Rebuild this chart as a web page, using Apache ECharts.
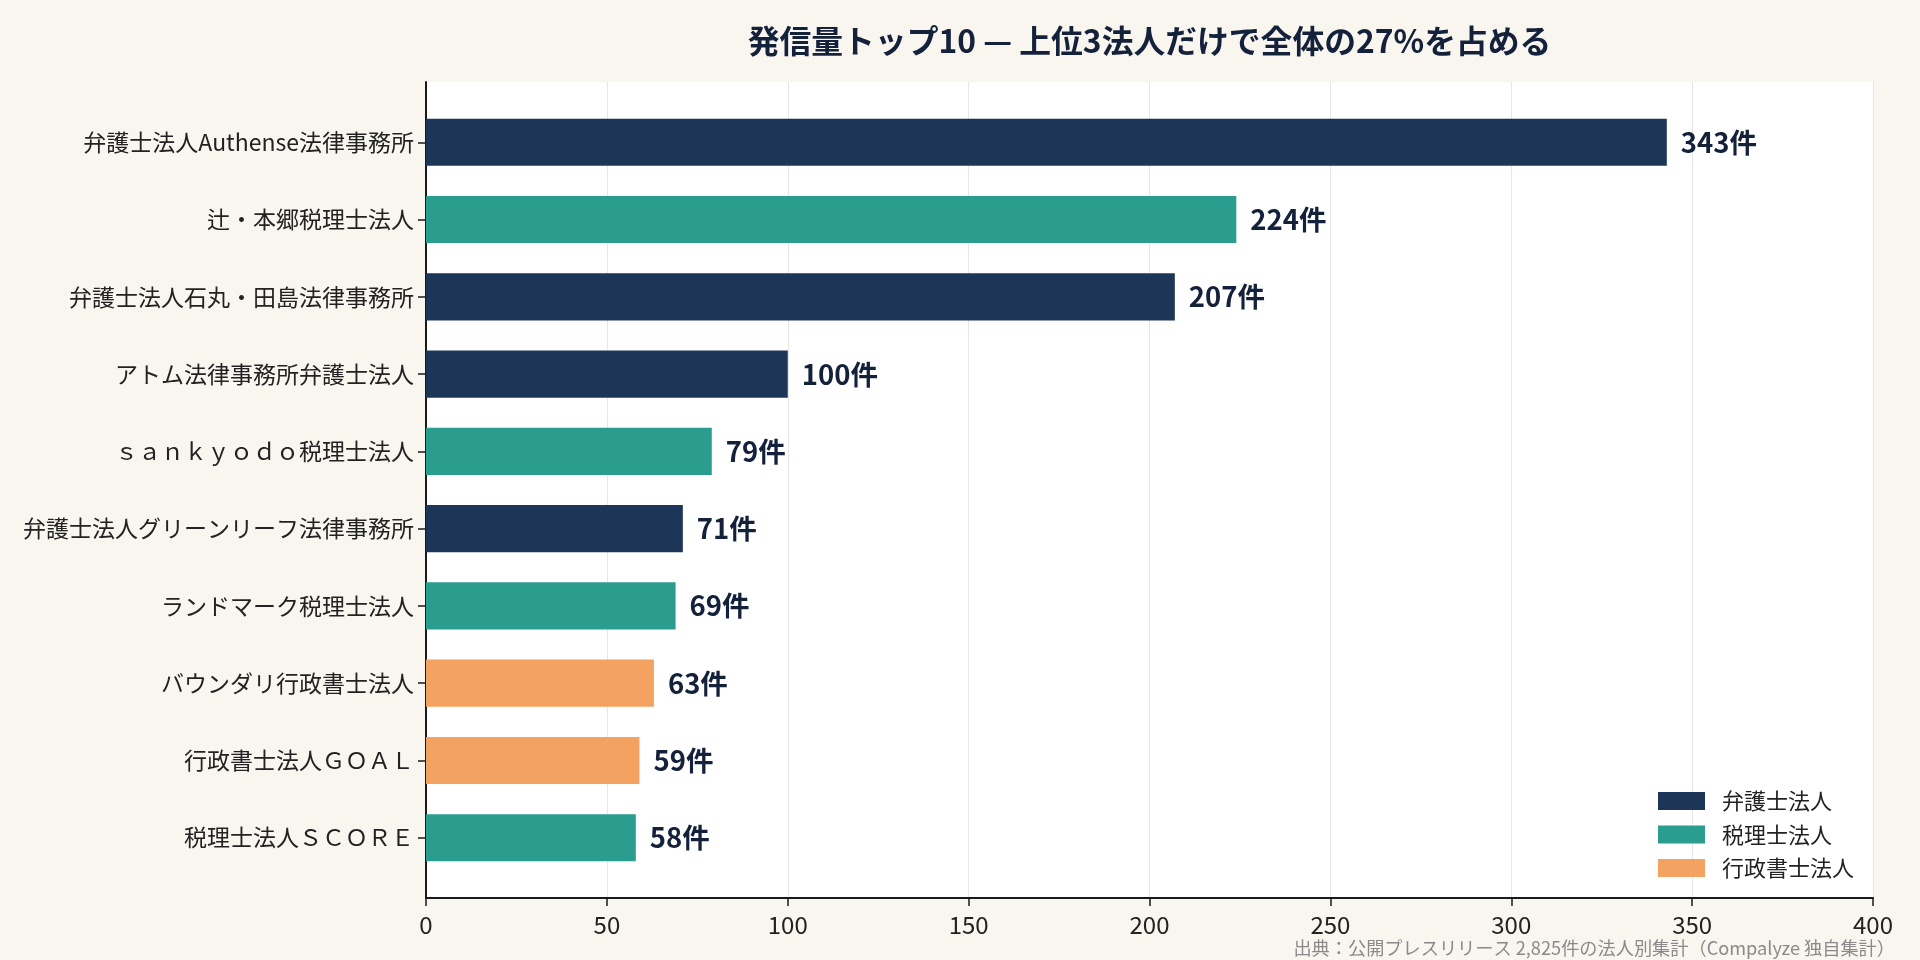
<!DOCTYPE html>
<html><head><meta charset="utf-8">
<script src="https://cdn.jsdelivr.net/npm/echarts@6/dist/echarts.min.js"></script>
<style>html,body{margin:0;padding:0;background:#f9f6f0}#c{width:1920px;height:960px}</style>
</head><body><div id="c"></div>
<script>
const categories = ['弁護士法人Authense法律事務所','辻・本郷税理士法人','弁護士法人石丸・田島法律事務所','アトム法律事務所弁護士法人','ｓａｎｋｙｏｄｏ税理士法人','弁護士法人グリーンリーフ法律事務所','ランドマーク税理士法人','バウンダリ行政書士法人','行政書士法人ＧＯＡＬ','税理士法人ＳＣＯＲＥ'];
const values = [343,224,207,100,79,71,69,63,59,58];
const types = ['弁護士法人','税理士法人','弁護士法人','弁護士法人','税理士法人','弁護士法人','税理士法人','行政書士法人','行政書士法人','税理士法人'];
const typeNames = ['弁護士法人','税理士法人','行政書士法人'];
const typeColors = ['#1d3557','#2a9d8f','#f4a261'];
const xTicks = [0,50,100,150,200,250,300,350,400];
const titleText = '発信量トップ10 — 上位3法人だけで全体の27%を占める';
const sourceText = '出典：公開プレスリリース 2,825件の法人別集計（Compalyze 独自集計）';

const FONT = '"Noto Sans CJK JP","Noto Sans",sans-serif';
const L = 426, R = 1873, T = 82, B = 898;
const unit = (B - T) / 10.56;
const innerTop = T + 0.28 * unit, innerH = 10 * unit;

const chart = echarts.init(document.getElementById('c'), null, {renderer:'canvas'});
const series = typeNames.map((t, k) => ({
  name: t, type: 'bar', stack: 'a', xAxisIndex: 1, yAxisIndex: 1,
  barWidth: '61%',
  itemStyle: {color: typeColors[k]},
  data: values.map((v, i) => types[i] === t ? v : '-'),
  label: {show: true, position: 'right', distance: 14, formatter: '{c}件',
    fontFamily: FONT, fontWeight: 'bold', fontSize: 27.5, color: '#14213a'}
}));
chart.setOption({
  backgroundColor: '#f9f6f0',
  animation: false,
  graphic: [
    {type: 'text', x: (L + R) / 2, y: 41, style: {text: titleText, textAlign: 'center', textVerticalAlign: 'middle', fontFamily: FONT, fontWeight: 'bold', fontSize: 31.8, fill: '#14213a'}},
    {type: 'text', x: 1895, y: 948, style: {text: sourceText, textAlign: 'right', textVerticalAlign: 'middle', fontFamily: FONT, fontSize: 18.2, fill: '#8a8a8a'}}
  ],
  legend: {
    data: typeNames, orient: 'vertical', left: 1658, top: 790, padding: 0,
    itemWidth: 47, itemHeight: 18, itemGap: 11.5, icon: 'rect',
    textStyle: {fontFamily: FONT, fontSize: 22, color: '#222', lineHeight: 22, padding: [0, 0, 0, 12]}
  },
  grid: [
    {left: L, top: T, width: R - L, height: B - T, show: true, backgroundColor: '#ffffff', borderWidth: 0},
    {left: L, top: innerTop, width: R - L, height: innerH}
  ],
  xAxis: [
    {gridIndex: 0, type: 'value', min: 0, max: 400, interval: 50,
      axisLine: {show: true, lineStyle: {color: '#1a1a1a', width: 2}},
      axisTick: {show: true, length: 8, lineStyle: {color: '#1a1a1a', width: 1.5}},
      axisLabel: {fontFamily: FONT, fontSize: 24, color: '#222', margin: 15, customValues: xTicks},
      splitLine: {show: true, lineStyle: {color: '#e6e6e6', width: 1}}},
    {gridIndex: 1, type: 'value', min: 0, max: 400, show: false}
  ],
  yAxis: [
    {gridIndex: 0, type: 'value', min: 0, max: 1,
      axisLine: {show: true, lineStyle: {color: '#1a1a1a', width: 2}},
      axisTick: {show: false}, axisLabel: {show: false}, splitLine: {show: false}},
    {gridIndex: 1, type: 'category', inverse: true, data: categories,
      axisLine: {show: false},
      axisTick: {show: true, alignWithLabel: true, length: 8, lineStyle: {color: '#1a1a1a', width: 1.5}},
      axisLabel: {fontFamily: FONT, fontSize: 23, color: '#222', margin: 12}}
  ],
  series: series
});
</script></body></html>
